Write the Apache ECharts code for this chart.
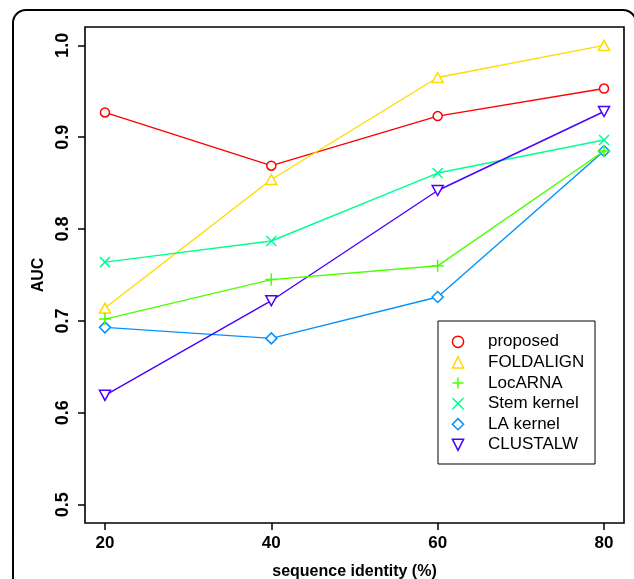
<!DOCTYPE html>
<html>
<head>
<meta charset="utf-8">
<script src="https://cdn.jsdelivr.net/npm/echarts@6/dist/echarts.min.js"></script>
<style>
html,body{margin:0;padding:0;background:#fff;}
#c{width:634px;height:579px;}
</style>
</head>
<body>
<div id="c"></div>
<script>
// ---- data ----
var identity = [20, 40, 60, 80];
var seriesNames = ['proposed', 'FOLDALIGN', 'LocARNA', 'Stem kernel', 'LA kernel', 'CLUSTALW'];
var proposed   = [0.927, 0.869, 0.923, 0.953];
var foldalign  = [0.714, 0.854, 0.965, 1.000];
var locarna    = [0.702, 0.745, 0.760, 0.885];
var stemKernel = [0.764, 0.787, 0.861, 0.897];
var laKernel   = [0.693, 0.681, 0.726, 0.885];
var clustalw   = [0.619, 0.722, 0.842, 0.928];
var xTicks = [20, 40, 60, 80];
var yTicks = [0.5, 0.6, 0.7, 0.8, 0.9, 1.0];

var colors = ['#FF0000', '#FFDB00', '#49FF00', '#00FF92', '#0092FF', '#4900FF'];
var symbols = ['circle', 'triangle', 'path://M0,-1L0,1M-1,0L1,0', 'path://M-1,-1L1,1M-1,1L1,-1', 'diamond', 'triangle'];
var symbolSizes = [9, [11, 10], 12, 10, [11, 11], [11, 10]];
var rotates = [0, 0, 0, 0, 0, 180];
var allValues = [proposed, foldalign, locarna, stemKernel, laKernel, clustalw];

function pairs(vals) {
  return identity.map(function (x, i) { return [x, vals[i]]; });
}

var series = seriesNames.map(function (name, k) {
  return {
    name: name,
    type: 'line',
    data: pairs(allValues[k]),
    symbol: symbols[k],
    symbolSize: symbolSizes[k],
    symbolRotate: rotates[k],
    z: k === 2 ? 5 : 2,
    lineStyle: { color: colors[k], width: 1.4 },
    itemStyle: { color: '#ffffff', borderColor: colors[k], borderWidth: 1.5 },
    emphasis: { disabled: true },
    clip: false
  };
});

var chart = echarts.init(document.getElementById('c'), null, { renderer: 'canvas' });
var font = 'Liberation Sans, Arial, Helvetica, sans-serif';
chart.setOption({
  animation: false,
  backgroundColor: '#ffffff',
  textStyle: { fontFamily: font },
  graphic: [
    {
      type: 'rect',
      shape: { x: 13, y: 10, width: 623, height: 640, r: 13 },
      style: { fill: 'none', stroke: '#000', lineWidth: 2 },
      z: 0
    },
    {
      type: 'rect',
      shape: { x: 438, y: 321, width: 157, height: 143 },
      style: { fill: '#fff', stroke: '#000', lineWidth: 1 },
      z: 10
    }
  ],
  grid: {
    left: 85, right: 10, top: 27, bottom: 56,
    outerBoundsMode: 'none',
    containLabel: false,
    show: true, borderColor: '#000', borderWidth: 1.6, backgroundColor: 'transparent'
  },
  legend: {
    orient: 'vertical',
    left: 433, top: 333.3,
    padding: 0,
    itemWidth: 50, itemHeight: 14, itemGap: 3.6,
    selectedMode: false,
    lineStyle: { width: 0, opacity: 0 },
    itemStyle: { borderWidth: 1.5 },
    textStyle: { fontSize: 17, color: '#000', fontFamily: font },
    data: seriesNames,
    z: 20
  },
  xAxis: {
    type: 'value',
    min: 17.6, max: 82.4,
    name: 'sequence identity (%)',
    nameLocation: 'middle',
    nameGap: 41,
    nameTextStyle: { fontSize: 16, fontWeight: 'bold', color: '#000', fontFamily: font },
    axisLine: { show: false },
    splitLine: { show: false },
    axisTick: { show: true, inside: false, length: 7, lineStyle: { color: '#000', width: 1.5 }, customValues: xTicks },
    axisLabel: { show: true, customValues: xTicks, fontSize: 17, fontWeight: 'bold', color: '#000', margin: 12, fontFamily: font }
  },
  yAxis: {
    type: 'value',
    min: 0.48, max: 1.02,
    name: 'AUC',
    nameLocation: 'middle',
    nameRotate: 90,
    nameGap: 38,
    nameTextStyle: { fontSize: 16, fontWeight: 'bold', color: '#000', fontFamily: font },
    axisLine: { show: false },
    splitLine: { show: false },
    axisTick: { show: true, inside: false, length: 7, lineStyle: { color: '#000', width: 1.5 }, customValues: yTicks },
    axisLabel: {
      show: true, customValues: yTicks, rotate: 90, fontSize: 18, fontWeight: 'bold', color: '#000', margin: 13, fontFamily: font,
      formatter: function (v) { return v.toFixed(1); }
    }
  },
  series: series
});
</script>
</body>
</html>
